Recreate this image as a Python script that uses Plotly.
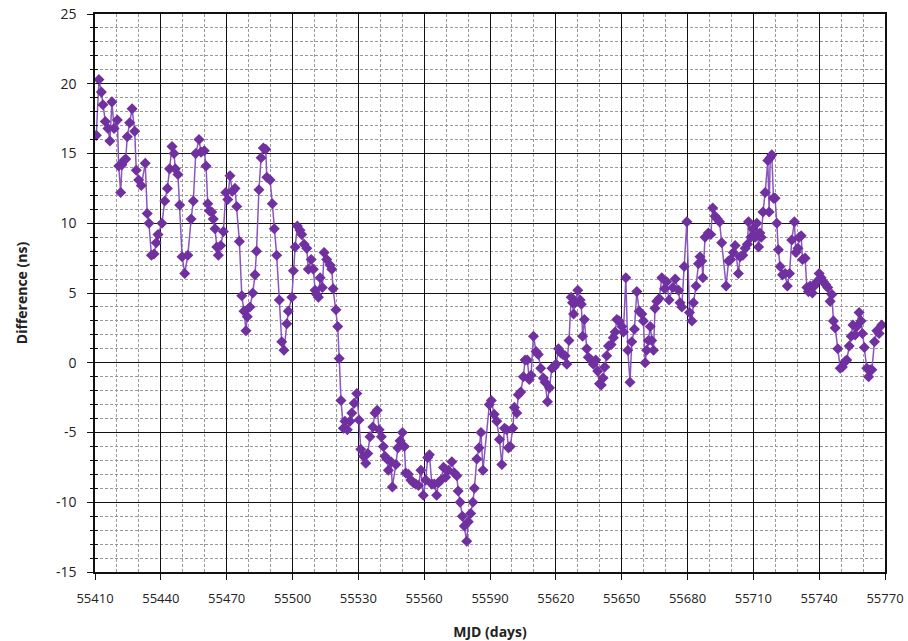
import plotly.graph_objects as go

MJD0 = 55410
day_offset = [
    0.6, 1.8, 2.9, 3.6, 4.7, 5.9, 6.8, 7.7, 8.7, 10.2, 10.8, 11.7, 12.3, 13.2, 14.0, 14.7, 15.8, 16.9, 18.1, 18.8,
    19.9, 21.1, 22.9, 23.8, 24.6, 25.7, 26.9, 27.9, 28.7, 30.5, 31.8, 33.0, 34.0, 35.1, 36.0, 36.6, 37.8, 38.6, 39.7, 40.9,
    42.3, 43.8, 44.8, 45.9, 47.4, 48.3, 49.8, 50.6, 51.4, 52.1, 53.2, 53.9, 54.7, 55.5, 56.2, 57.3, 58.5, 59.6, 60.5, 61.5,
    62.6, 63.8, 64.6, 65.8, 66.9, 67.9, 68.8, 69.4, 70.6, 71.9, 72.9, 73.6, 74.7, 75.7, 76.7, 77.8, 78.3, 79.8, 80.8, 81.7,
    82.8, 84.0, 85.1, 86.1, 87.4, 88.1, 89.7, 90.4, 91.2, 92.2, 93.4, 94.2, 95.3, 96.5, 97.2, 98.5, 99.5, 100.3, 101.0, 101.8,
    102.6, 103.6, 104.4, 105.6, 107.1, 107.9, 108.5, 109.8, 110.6, 111.3, 112.1, 113.2, 113.9, 115.0, 116.2, 117.0, 118.1, 119.3, 120.3, 121.1,
    122.3, 123.4, 124.3, 125.3, 126.6, 127.6, 128.6, 129.5, 130.5, 131.4, 132.1, 133.0, 133.7, 134.9, 135.5, 137.1, 138.0, 139.0, 140.1, 141.0,
    141.6, 142.8, 143.9, 145.1, 146.2, 147.4, 148.5, 149.6, 150.7, 151.6, 152.4, 153.5, 154.6, 155.7, 156.5, 157.7, 158.8, 159.8, 161.0, 162.6,
    163.8, 164.9, 165.5, 166.4, 167.4, 168.3, 169.4, 170.1, 171.2, 172.2, 172.9, 174.0, 175.0, 175.9, 176.8, 179.7, 180.6, 181.9, 183.1, 184.3,
    185.4, 186.6, 187.6, 188.4, 189.2, 190.4, 191.1, 192.2, 192.9, 194.0, 195.2, 196.0, 197.0, 197.9, 198.7, 199.8, 201.0, 202.0, 203.1, 204.3,
    205.1, 206.2, 207.1, 208.2, 209.2, 210.1, 211.2, 212.3, 213.2, 214.2, 215.0, 216.0, 217.0, 217.6, 218.1, 218.8, 220.0, 221.1, 221.6, 222.2,
    223.0, 224.1, 224.8, 226.1, 227.1, 228.2, 229.1, 229.9, 230.7, 231.5, 232.3, 233.2, 234.0, 235.2, 236.2, 237.0, 237.8, 238.8, 240.1, 240.8,
    241.9, 242.8, 243.8, 244.6, 245.8, 246.9, 248.0, 249.2, 249.9, 250.7, 251.4, 252.2, 253.0, 253.7, 254.5, 255.2, 256.0, 257.1, 258.3, 259.6,
    260.5, 261.6, 263.3, 264.4, 265.9, 266.6, 267.4, 268.5, 269.7, 270.9, 272.0, 272.7, 273.9, 275.0, 275.7, 276.5, 277.0, 278.0, 279.5, 280.6,
    281.5, 282.6, 283.6, 284.6, 285.6, 287.6, 288.7, 289.7, 290.9, 291.7, 293.2, 294.0, 295.2, 296.3, 297.3, 297.8, 298.9, 299.8, 300.8, 301.6,
    302.4, 303.0, 303.6, 304.4, 305.4, 306.6, 307.2, 307.7, 308.4, 309.2, 309.9, 310.7, 311.4, 312.2, 313.3, 314.5, 315.5, 316.5, 317.5, 318.7,
    319.4, 320.3, 320.9, 321.8, 322.4, 323.6, 324.4, 325.1, 325.9, 326.9, 327.8, 328.9, 330.0, 330.9, 331.9, 333.0, 333.9, 335.0, 335.8, 336.5,
    337.3, 338.5, 339.6, 340.6, 341.9, 342.6, 343.7, 344.6, 345.4, 346.4, 347.2, 348.2, 349.1, 349.7, 350.6, 351.7, 352.5, 353.2, 354.0, 355.2,
    356.3, 357.3, 358.5,
]
difference_ns = [
    16.3, 20.3, 19.4, 18.5, 17.3, 16.8, 15.9, 18.7, 16.8, 17.4, 14.1, 12.2, 14.2, 14.5, 14.6, 16.2, 17.2, 18.2, 16.6, 13.8,
    13.1, 12.7, 14.3, 10.7, 10.0, 7.7, 7.8, 8.6, 9.2, 10.0, 11.6, 12.5, 13.9, 15.5, 15.0, 13.9, 13.5, 11.3, 7.6, 6.4,
    7.7, 10.3, 11.6, 15.0, 16.0, 15.1, 15.2, 14.1, 11.4, 10.9, 10.8, 10.3, 9.6, 8.3, 7.7, 8.4, 9.4, 12.2, 11.7, 13.4,
    12.3, 12.5, 11.2, 8.7, 4.8, 3.7, 2.3, 3.3, 4.0, 5.0, 6.3, 8.0, 12.4, 14.7, 15.4, 15.3, 13.3, 13.1, 11.4, 9.6,
    7.7, 4.5, 1.5, 0.9, 2.8, 3.7, 4.7, 6.6, 8.3, 9.8, 9.5, 9.2, 8.5, 8.2, 6.7, 7.4, 6.7, 5.2, 4.9, 4.7,
    6.1, 5.4, 7.9, 7.4, 7.0, 6.7, 5.3, 3.8, 2.6, 0.3, -2.7, -4.7, -4.2, -4.8, -4.2, -3.6, -2.9, -2.2, -4.1, -6.2,
    -6.7, -7.2, -6.5, -5.3, -4.6, -3.6, -3.4, -4.8, -5.3, -6.0, -6.7, -6.9, -7.7, -7.1, -8.9, -7.3, -6.1, -5.6, -5.0, -6.0,
    -7.9, -8.0, -8.4, -8.6, -8.7, -8.8, -7.7, -9.5, -8.4, -6.8, -6.6, -8.7, -8.7, -9.5, -8.6, -8.4, -7.5, -8.2, -7.7, -7.1,
    -7.9, -8.1, -9.2, -10.0, -11.0, -11.7, -12.8, -11.4, -10.8, -10.0, -9.0, -6.9, -6.1, -5.0, -7.7, -3.0, -2.7, -3.7, -4.2, -5.5,
    -7.3, -4.7, -4.8, -6.1, -6.0, -4.7, -3.2, -3.6, -2.3, -2.1, -1.0, 0.2, 0.2, -1.2, -0.9, 1.9, 0.8, 0.6, -0.4, -1.1,
    -1.4, -2.8, -1.8, -0.4, -0.3, -0.1, 1.0, 0.7, 0.6, 0.5, -0.1, 1.6, 4.7, 4.3, 3.5, 4.3, 5.2, 4.5, 4.2, 1.9,
    3.1, 1.0, 0.4, 0.2, -0.1, 0.2, -0.6, -1.5, -1.6, -1.1, -0.3, 0.5, 1.2, 1.3, 1.8, 2.2, 3.1, 3.0, 2.6, 2.2,
    6.1, 0.9, -1.4, 1.5, 2.4, 5.1, 3.7, 3.5, 3.0, 0.0, 0.9, 1.6, 2.6, 1.6, 0.9, 3.9, 4.4, 4.6, 6.1, 5.3,
    5.8, 4.5, 5.4, 6.0, 5.2, 4.3, 4.0, 6.9, 10.1, 3.6, 3.0, 4.3, 5.5, 7.1, 7.6, 7.3, 6.1, 9.0, 9.3, 9.2,
    11.1, 10.5, 10.3, 10.1, 8.6, 5.5, 7.3, 7.4, 7.9, 8.4, 6.4, 7.6, 7.7, 8.2, 8.5, 10.1, 9.0, 9.6, 9.0, 10.0,
    8.3, 9.3, 9.0, 10.8, 12.2, 14.5, 10.8, 14.7, 14.9, 11.8, 11.8, 10.0, 8.1, 6.9, 6.3, 6.4, 5.5, 6.4, 8.8, 10.1,
    7.9, 8.2, 9.0, 9.1, 7.4, 7.5, 5.4, 5.1, 5.5, 5.0, 5.5, 5.8, 6.4, 6.1, 5.8, 5.6, 5.4, 4.4, 4.9, 3.0,
    2.5, 1.0, -0.4, -0.3, 0.1, 0.2, 1.2, 1.9, 2.7, 2.0, 2.6, 3.6, 3.0, 2.1, 1.1, -0.4, -1.0, -0.5, -0.5, 1.5,
    2.3, 2.1, 2.7,
]
mjd = [MJD0 + d for d in day_offset]

x_ticks = [55410, 55440, 55470, 55500, 55530, 55560, 55590, 55620, 55650, 55680, 55710, 55740, 55770]
y_ticks = [-15, -10, -5, 0, 5, 10, 15, 20, 25]
y_tick_text = ["-15", "-10", "-5", "0", "5", "10", "15", "20", "25"]

PURPLE = "#7030A0"
FONT = "Open Sans, Lato, sans-serif"

fig = go.Figure()
fig.add_trace(go.Scatter(
    x=mjd, y=difference_ns, mode="lines+markers",
    line=dict(color="#8A55BE", width=1.5),
    marker=dict(symbol="diamond", size=8.5, color=PURPLE, line=dict(width=0)),
    showlegend=False,
))
# invisible trace to drive overlay axes (inside tick marks)
fig.add_trace(go.Scatter(x=[x_ticks[0]], y=[y_ticks[0]], xaxis="x2", yaxis="y2",
                         mode="markers", marker=dict(opacity=0), showlegend=False, hoverinfo="skip"))

fig.update_layout(
    width=908, height=641,
    paper_bgcolor="white", plot_bgcolor="white",
    margin=dict(l=95, r=23, t=14, b=69),
    font=dict(family=FONT, size=14, color="#222"),
    xaxis=dict(
        range=[55410, 55770], tickvals=x_ticks, ticktext=[str(v) for v in x_ticks],
        showgrid=True, gridcolor="#111", gridwidth=1,
        showline=True, linecolor="#111", linewidth=1.5, mirror=True,
        ticks="outside", ticklen=6, tickcolor="#111", automargin=False,
        minor=dict(dtick=10, showgrid=True, gridcolor="#999", griddash="3px,2px", gridwidth=1),
        zeroline=False, ticklabelstandoff=8, ticklabeloverflow="allow",
        tickfont=dict(size=13),
        title=dict(text="<b>MJD (days)</b>", font=dict(size=14), standoff=23),
    ),
    yaxis=dict(
        range=[-15, 25], tickvals=y_ticks, ticktext=y_tick_text,
        showgrid=True, gridcolor="#111", gridwidth=1,
        showline=True, linecolor="#111", linewidth=1.5, automargin=False, mirror=True,
        ticks="outside", ticklen=6, tickcolor="#111",
        minor=dict(dtick=1, showgrid=True, gridcolor="#999", griddash="3px,2px", gridwidth=1,
                   ticks="outside", ticklen=3, tickcolor="#111"),
        zeroline=False, ticklabelstandoff=8, ticklabeloverflow="allow",
        title=dict(text="<b>Difference (ns)</b>", font=dict(size=14), standoff=25),
    ),
    xaxis2=dict(overlaying="x", range=[55410, 55770], tickvals=x_ticks, showticklabels=False, automargin=False,
                showgrid=False, ticks="inside", ticklen=4, tickcolor="#111", side="bottom", zeroline=False),
    yaxis2=dict(overlaying="y", range=[-15, 25], tickvals=y_ticks, showticklabels=False, automargin=False,
                showgrid=False, ticks="inside", ticklen=4, tickcolor="#111", side="left", zeroline=False,
                minor=dict(dtick=1, ticks="inside", ticklen=3, tickcolor="#111")),
)

fig.write_html(
    "out.html",
    config={"displayModeBar": False},
    post_script="document.body.style.margin='0';document.body.style.overflow='hidden';",
)
